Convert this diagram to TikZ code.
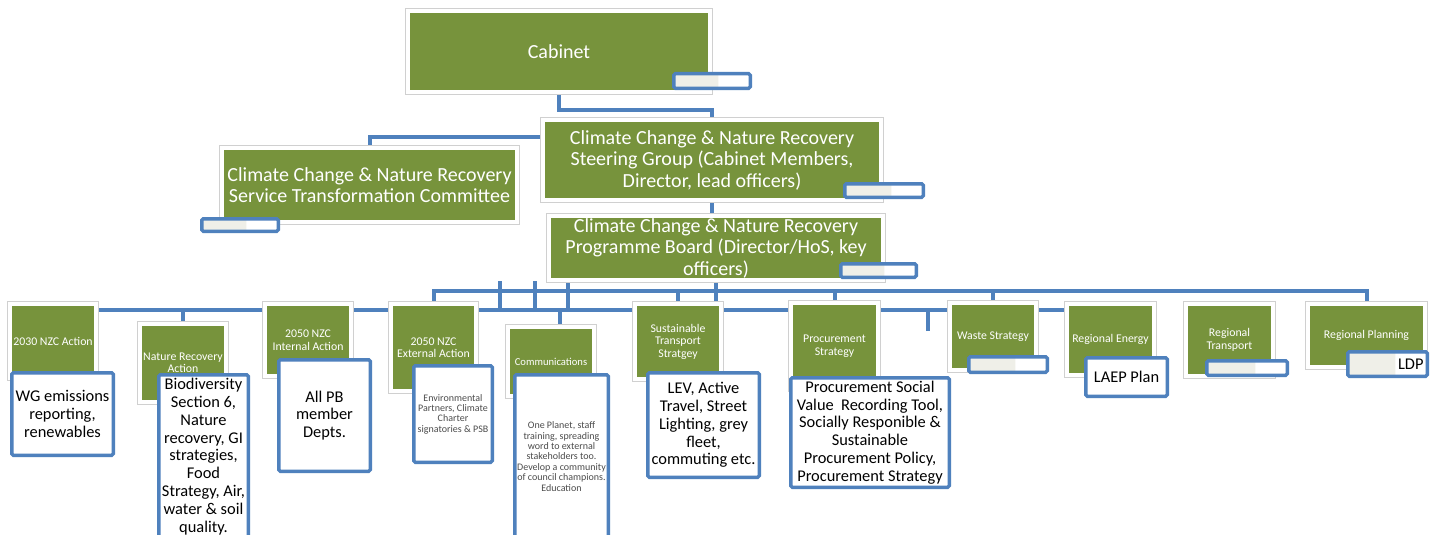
\documentclass[tikz,border=0pt]{standalone}
\usepackage{fontspec}
\setmainfont{Carlito}
\usepackage{tikz}
\usetikzlibrary{backgrounds}
\definecolor{olivegreen}{HTML}{77933C}
\definecolor{linkblue}{HTML}{4F81BD}
\definecolor{framegray}{HTML}{D0D0D0}
\definecolor{tagfill}{HTML}{EFEFE8}
\tikzstyle{unit} = [rectangle, fill=olivegreen, draw=white, line width=4pt,
    preaction={draw=framegray, line width=5.4pt}, text=white, align=center, inner sep=0pt]
\tikzstyle{note} = [rectangle, draw=linkblue, line width=3.5pt, fill=white,
    rounded corners=1.5pt, align=center, inner sep=0pt]
\tikzstyle{tag} = [note, path picture={\fill [tagfill] (path picture bounding box.south west)
    rectangle ([xshift=-32pt]path picture bounding box.north east);}]
\tikzstyle{link} = [draw=linkblue, line width=4pt]
\newcommand{\headfont}{\fontsize{20}{21.5}\selectfont}
\newcommand{\unitfont}{\fontsize{11.8}{12.5}\selectfont}
\newcommand{\notefont}{\fontsize{16.4}{17.8}\selectfont}
\newcommand{\finefont}{\fontsize{10}{10.4}\selectfont}

\begin{document}
\begin{tikzpicture}[x=1pt, y=-1pt]
    \useasboundingbox (0,0) rectangle (1435,535);
    % Place nodes

    \node [unit, minimum width=302.6pt, minimum height=81.6pt, font=\headfont] (cab) at (559,51.5) {Cabinet};
    \node [unit, minimum width=338.6pt, minimum height=80.6pt, font=\headfont] (stg) at (712,160) {Climate Change \& Nature Recovery\\Steering Group (Cabinet Members,\\Director, lead officers)};
    \node [unit, minimum width=295.6pt, minimum height=74.6pt, font=\headfont] (stc) at (369.5,185) {Climate Change \& Nature Recovery\\Service Transformation Committee};
    \node [unit, minimum width=334.6pt, minimum height=64.6pt, font=\headfont] (pb) at (716,248) {Climate Change \& Nature Recovery\\Programme Board (Director/HoS, key\\officers)};

    \node [unit, minimum width=86.6pt, minimum height=74.6pt, font=\unitfont] (n2030) at (53,341) {2030 NZC Action};
    \node [unit, minimum width=86.6pt, minimum height=78.6pt, font=\unitfont] (nature) at (183,363) {Nature Recovery\\Action};
    \node [unit, minimum width=86.6pt, minimum height=72.6pt, font=\unitfont] (internal) at (308,340) {2050 NZC\\Internal Action};
    \node [unit, minimum width=85.6pt, minimum height=87.6pt, font=\unitfont] (ext) at (433.5,347.5) {2050 NZC\\External Action};
    \node [unit, minimum width=86.6pt, minimum height=69.6pt, font=\fontsize{10.6}{12}\selectfont] (comms) at (551,361.5) {Communications};
    \node [unit, minimum width=86.6pt, minimum height=75.6pt, font=\unitfont] (sust) at (678,341.5) {Sustainable\\Transport\\Stratgey};
    \node [unit, minimum width=87.6pt, minimum height=86.6pt, font=\unitfont] (proc) at (834.5,346) {Procurement\\Strategy};
    \node [unit, minimum width=86.6pt, minimum height=67.6pt, font=\unitfont] (waste) at (993,336.5) {Waste Strategy};
    \node [unit, minimum width=87.6pt, minimum height=71.6pt, font=\unitfont] (energy) at (1110.5,339.5) {Regional Energy};
    \node [unit, minimum width=87.6pt, minimum height=72.6pt, font=\unitfont] (trans) at (1229.5,340) {Regional\\Transport};
    \node [unit, minimum width=117.6pt, minimum height=63.6pt, font=\unitfont] (plan) at (1366.5,335.5) {Regional Planning};

    % Notes and empty tags
    \node [tag, minimum width=76.5pt, minimum height=14.5pt] (cabtag) at (712,81) {};
    \node [tag, minimum width=78.5pt, minimum height=13.5pt] (stgtag) at (884,190.5) {};
    \node [tag, minimum width=76.5pt, minimum height=12.5pt] (stctag) at (240,225) {};
    \node [tag, minimum width=75.5pt, minimum height=13.5pt] (pbtag) at (878.5,270.5) {};
    \node [note, minimum width=101.5pt, minimum height=82.5pt, font=\notefont] (wg) at (62.5,414) {WG emissions\\reporting,\\renewables};
    \node [note, minimum width=89.5pt, minimum height=163.5pt, font=\notefont] (bio) at (203.5,456.5) {Biodiversity\\Section 6,\\Nature\\recovery, GI\\strategies,\\Food\\Strategy, Air,\\water \& soil\\quality.};
    \node [note, minimum width=91.5pt, minimum height=111.5pt, font=\notefont] (allpb) at (324.5,415.5) {All PB\\member\\Depts.};
    \node [note, minimum width=78.5pt, minimum height=96.5pt, font=\finefont, text=black!70] (envp) at (453,414) {Environmental\\Partners, Climate\\Charter\\signatories \& PSB};
    \node [note, minimum width=93.5pt, minimum height=163.5pt, font=\finefont, text=black!70] (comtxt) at (561.5,456.5) {One Planet, staff\\training, spreading\\word to external\\stakeholders too.\\Develop a community\\of council champions.\\Education};
    \node [note, minimum width=111.5pt, minimum height=104.5pt, font=\notefont] (lev) at (703.5,425) {LEV, Active\\Travel, Street\\Lighting, grey\\fleet,\\commuting etc.};
    \node [note, minimum width=158.5pt, minimum height=109.5pt, font=\notefont] (proctxt) at (870,432.5) {Procurement Social\\Value\ \ Recording Tool,\\Socially Responible \&\\Sustainable\\Procurement Policy,\\Procurement Strategy};
    \node [tag, minimum width=78.5pt, minimum height=15.5pt] (wastetag) at (1008,364.5) {};
    \node [note, minimum width=81.5pt, minimum height=38.5pt, font=\notefont] (laep) at (1126.5,377) {LAEP Plan};
    \node [tag, minimum width=80.5pt, minimum height=14.5pt] (transtag) at (1247,368) {};
    \node [tag, minimum width=79.5pt, minimum height=24.5pt, text width=72pt, align=right, font=\notefont] (ldp) at (1387.5,364) {LDP};

    \begin{scope}[on background layer]
    \fill [white] (0,0) rectangle (1435,535);
    \coordinate (topbus) at (0,110);
    \coordinate (upbus) at (0,291);
    \coordinate (lobus) at (0,310);
    \coordinate (commtop) at ([xshift=9pt]comms.north);
    \coordinate (stub) at (928,331);
    \foreach \x [count=\i] in {500,535,568}
        \coordinate (tick\i) at (\x,281);
    \draw [link] (cab.south) -- (cab.south |- topbus) -| (stg.north);
    \draw [link] ([yshift=23pt]stg.west) -| (stc.north);
    \draw [link] (stg.south) -- (stg.south |- pb.north);
    \draw [link] (pb.south) -- (pb.south |- lobus);
    \draw [link] (ext.north) |- (plan.north |- upbus) -- (plan.north);
    \foreach \n in {sust, proc, waste}
        \draw [link] (\n.north) -- (\n.north |- upbus);
    \draw [link] (n2030.east |- lobus) -- (energy.west |- lobus);
    \draw [link] (nature.north) -- (nature.north |- lobus);
    \draw [link] (commtop) -- (commtop |- lobus);
    \foreach \i in {1,2,3}
        \draw [link] (tick\i) -- (tick\i |- lobus);
    \draw [link] (stub) -- (stub |- lobus);
    \end{scope}
\end{tikzpicture}
\end{document}
